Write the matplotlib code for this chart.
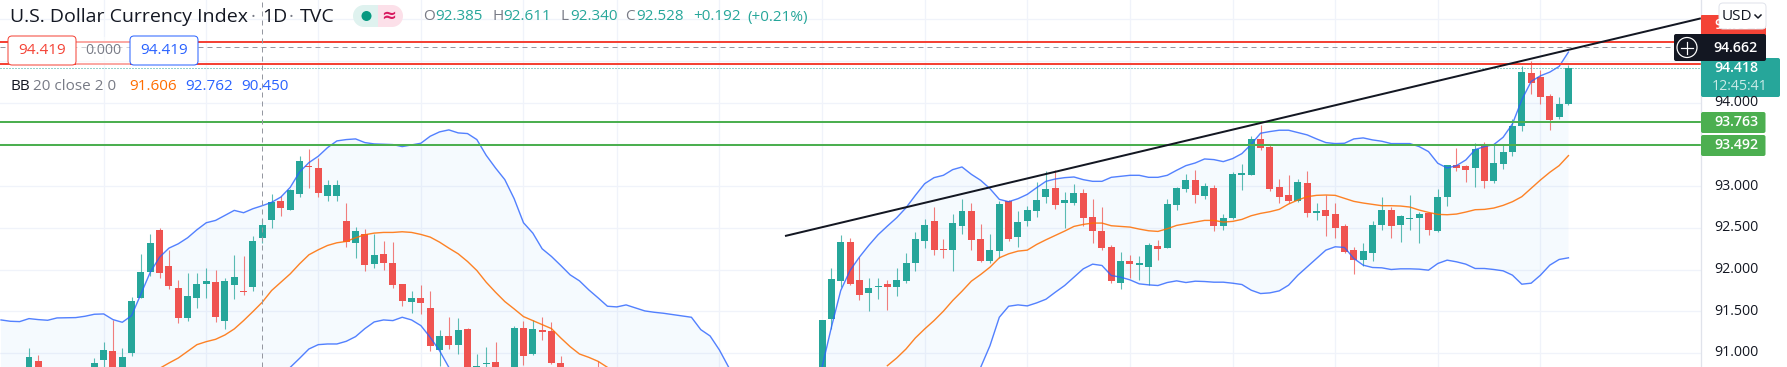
import numpy as np
import matplotlib
matplotlib.use('Agg')
import matplotlib.pyplot as plt
from matplotlib.patches import FancyBboxPatch, Rectangle, Circle

plt.rcParams['font.family'] = ['Open Sans', 'DejaVu Sans']

# candles that reach into the visible window (values below the window are estimates)
bar_n = np.r_[0, 1, 7:51, 52:58, 61, 85:166]
opens = [90.60, 90.908,
    90.60, 90.92, 91.028, 90.60, 91.004, 91.656, 91.976, 92.468, 92.044, 91.78, 91.416, 91.656, 91.824, 91.856, 91.388, 91.82, 91.748, 91.796, 92.376, 92.588,
    92.816, 92.708, 92.90, 93.24, 93.212, 92.876, 92.876, 92.576, 92.312, 92.42, 92.06, 92.18, 92.072, 91.832, 91.616, 91.664, 91.544, 91.04, 91.208, 91.10, 91.292, 90.60,
    90.868, 90.896,
    90.60, 91.304, 90.992, 91.28, 91.268, 90.884,
    90.75,
    90.60, 91.412, 91.868, 92.324, 91.88, 91.724, 91.796, 91.832, 91.796, 91.868, 92.072, 92.336, 92.576, 92.24, 92.228, 92.516, 92.696, 92.36, 92.096, 92.216, 92.816,
    92.384, 92.576, 92.696, 92.864, 92.972, 92.792, 92.792, 92.912, 92.624, 92.456, 92.264, 91.844, 92.096, 92.048, 92.024, 92.276, 92.252, 92.768, 92.96, 93.068, 92.876,
    92.972, 92.516, 92.612, 93.132, 93.132, 93.564, 93.468, 92.988, 92.892, 92.82, 93.036, 92.676, 92.712, 92.664, 92.52, 92.232, 92.112, 92.196, 92.532, 92.712, 92.532,
    92.604, 92.616, 92.676, 92.46, 92.868, 93.252, 93.24, 93.216, 93.48, 93.06, 93.264, 93.408, 93.72, 94.356, 94.308, 94.08, 93.828, 93.984]
highs = [91.06, 90.976,
    90.94, 91.136, 91.396, 91.06, 91.676, 92.188, 92.42, 92.50, 92.236, 91.876, 91.964, 91.964, 92.02, 91.996, 91.90, 92.168, 92.156, 92.396, 92.608, 92.908,
    92.876, 92.96, 93.356, 93.44, 93.332, 93.068, 93.068, 92.792, 92.504, 92.48, 92.42, 92.336, 92.324, 91.832, 91.748, 91.82, 91.748, 91.276, 91.436, 91.424, 91.304, 90.992,
    91.076, 91.136,
    91.328, 91.388, 91.40, 91.436, 91.376, 90.968,
    90.90,
    91.40, 92.012, 92.408, 92.372, 92.144, 91.904, 91.904, 91.88, 92.012, 92.192, 92.444, 92.60, 92.744, 92.36, 92.66, 92.84, 92.792, 92.54, 92.42, 92.816, 92.828,
    92.696, 92.756, 93.044, 93.176, 93.188, 92.924, 93.02, 92.96, 92.84, 92.744, 92.288, 92.204, 92.168, 92.156, 92.312, 92.348, 92.84, 92.984, 93.14, 93.188, 93.032,
    93.008, 92.66, 93.164, 93.26, 93.60, 93.732, 93.492, 93.084, 93.132, 93.084, 93.18, 92.796, 92.892, 92.796, 92.544, 92.268, 92.316, 92.58, 92.868, 92.748, 92.652,
    92.892, 92.688, 92.688, 92.964, 93.252, 93.456, 93.252, 93.516, 93.528, 93.49, 93.492, 93.80, 94.44, 94.50, 94.392, 94.104, 94.068, 94.45]
lows = [90.50, 90.60,
    90.50, 90.70, 90.50, 90.50, 90.968, 91.656, 91.928, 91.896, 91.764, 91.356, 91.388, 91.536, 91.66, 91.368, 91.292, 91.648, 91.696, 91.748, 92.316, 92.50,
    92.636, 92.708, 92.868, 92.972, 92.868, 92.82, 92.82, 92.268, 92.132, 91.988, 92.012, 92.00, 91.784, 91.568, 91.484, 91.472, 91.028, 90.848, 91.052, 90.992, 90.60, 90.50,
    90.60, 90.50,
    90.50, 90.86, 90.98, 91.16, 90.872, 90.50,
    90.40,
    90.50, 91.292, 91.796, 91.82, 91.64, 91.508, 91.652, 91.52, 91.688, 91.844, 91.988, 92.252, 92.168, 92.132, 91.988, 92.42, 92.228, 92.084, 92.072, 92.132, 92.336,
    92.264, 92.516, 92.624, 92.792, 92.72, 92.492, 92.768, 92.516, 92.312, 92.228, 91.844, 91.772, 91.904, 91.88, 91.82, 92.108, 92.252, 92.708, 92.924, 92.792, 92.84,
    92.456, 92.468, 92.60, 92.948, 93.132, 93.432, 92.94, 92.80, 92.80, 92.808, 92.628, 92.592, 92.40, 92.376, 92.196, 91.944, 92.04, 92.10, 92.472, 92.376, 92.328,
    92.472, 92.316, 92.412, 92.448, 92.76, 93.18, 93.048, 92.988, 92.976, 93.036, 93.204, 93.36, 93.66, 94.10, 93.984, 93.672, 93.804, 93.972]
closes = [90.956, 90.70,
    90.884, 91.036, 90.60, 90.956, 91.628, 91.976, 92.312, 91.956, 91.808, 91.416, 91.688, 91.828, 91.868, 91.436, 91.868, 91.916, 91.732, 92.336, 92.528, 92.804,
    92.732, 92.948, 93.296, 93.228, 92.912, 93.008, 93.016, 92.328, 92.456, 92.048, 92.168, 92.072, 91.82, 91.628, 91.664, 91.604, 91.08, 91.208, 91.10, 91.28, 90.70, 90.848,
    90.884, 90.60,
    91.304, 90.968, 91.292, 91.256, 90.884, 90.60,
    90.50,
    91.40, 91.892, 92.324, 91.832, 91.70, 91.784, 91.808, 91.796, 91.88, 92.072, 92.36, 92.528, 92.228, 92.228, 92.552, 92.696, 92.348, 92.096, 92.228, 92.78, 92.36,
    92.564, 92.708, 92.828, 92.96, 92.768, 92.828, 92.912, 92.612, 92.456, 92.252, 91.868, 92.096, 92.06, 92.072, 92.288, 92.24, 92.78, 92.972, 93.068, 92.888, 92.996,
    92.516, 92.612, 93.14, 93.152, 93.564, 93.456, 92.964, 92.868, 92.82, 93.048, 92.676, 92.70, 92.64, 92.496, 92.208, 92.112, 92.22, 92.532, 92.712, 92.52, 92.64,
    92.616, 92.664, 92.472, 92.868, 93.252, 93.216, 93.192, 93.444, 93.06, 93.276, 93.408, 93.72, 94.368, 94.236, 94.068, 93.792, 93.984, 94.416]

# Bollinger bands, one value per bar
upper_a_start = -3
upper_a = [91.396, 91.38, 91.376, 91.412, 91.40, 91.392, 91.42, 91.422, 91.424, 91.44, 91.464, 91.468, 91.40, 91.368, 91.448, 91.708,
    91.968, 92.148, 92.256, 92.308, 92.38, 92.476, 92.56, 92.588, 92.648, 92.708, 92.68, 92.728, 92.764, 92.804, 92.868, 92.984, 93.168,
    93.28, 93.356, 93.46, 93.54, 93.556, 93.564, 93.52, 93.504, 93.50, 93.496, 93.472, 93.492, 93.512, 93.596, 93.648, 93.672,
    93.636, 93.628, 93.556, 93.368, 93.216, 93.076, 92.848, 92.56, 92.436, 92.248, 92.156, 92.048, 91.936, 91.864, 91.756, 91.66, 91.56,
    91.552, 91.576, 91.54, 91.504, 91.488, 91.476, 91.46, 91.444, 91.428, 91.28, 91.204, 91.036, 90.828]
upper_b_start = 85
upper_b = [90.83, 91.308, 91.748, 91.988, 92.148, 92.288, 92.416, 92.52, 92.62, 92.74, 92.888, 93.028, 93.10, 93.128, 93.196, 93.228,
    93.14, 93.068, 92.968, 92.84, 92.812, 92.848, 92.90, 92.98, 93.056, 93.084, 93.10, 93.108, 93.076, 93.056, 93.056, 93.104, 93.116,
    93.128, 93.128, 93.104, 93.104, 93.128, 93.188, 93.244, 93.276, 93.324, 93.316, 93.292, 93.328, 93.388, 93.50, 93.632, 93.652, 93.668,
    93.668, 93.64, 93.612, 93.564, 93.52, 93.508, 93.512, 93.564, 93.576, 93.552, 93.536, 93.508, 93.508, 93.508, 93.472, 93.412, 93.272,
    93.216, 93.244, 93.312, 93.436, 93.472, 93.496, 93.584, 93.744, 94.032, 94.252, 94.32, 94.364, 94.432, 94.604]
middle_a_start = 14
middle_a = [90.816, 90.88, 90.94, 91.02, 91.10, 91.136, 91.164, 91.216, 91.288, 91.388, 91.496, 91.608, 91.748, 91.848, 91.948, 92.068,
    92.176, 92.236, 92.288, 92.32, 92.336, 92.38, 92.416, 92.436, 92.444, 92.444, 92.452, 92.444, 92.42, 92.388, 92.328, 92.256,
    92.188, 92.096, 91.988, 91.848, 91.728, 91.616, 91.528, 91.436, 91.388, 91.34, 91.292, 91.18, 91.076, 90.988, 90.948, 90.90, 90.828]
middle_b_start = 92
middle_b = [90.848, 90.94, 91.048, 91.18, 91.288, 91.388, 91.50, 91.628, 91.74, 91.86, 91.94, 92.028, 92.14, 92.188, 92.22, 92.232, 92.30,
    92.356, 92.408, 92.46, 92.516, 92.54, 92.556, 92.556, 92.524, 92.516, 92.508, 92.484, 92.464, 92.456, 92.488, 92.528, 92.548, 92.568,
    92.588, 92.588, 92.568, 92.576, 92.60, 92.644, 92.672, 92.692, 92.72, 92.784, 92.832, 92.872, 92.888, 92.892, 92.888, 92.852, 92.816,
    92.796, 92.78, 92.764, 92.764, 92.76, 92.748, 92.712, 92.684, 92.66, 92.656, 92.664, 92.688, 92.716, 92.72, 92.736, 92.768, 92.812,
    92.872, 92.972, 93.072, 93.164, 93.244, 93.364]
lower_a_start = 28
lower_a = [90.828, 90.936, 91.048, 91.10, 91.108, 91.108, 91.14, 91.196, 91.292, 91.372, 91.396, 91.388, 91.428, 91.396, 91.328, 91.188, 91.028, 90.828]
lower_b_start = 102
lower_b = [90.828, 91.088, 91.428, 91.56, 91.576, 91.564, 91.60, 91.644, 91.728, 91.808, 91.908, 92.008, 92.064, 92.048, 91.928, 91.908,
    91.876, 91.828, 91.816, 91.808, 91.844, 91.864, 91.844, 91.86, 91.856, 91.848, 91.848, 91.836, 91.82, 91.752, 91.712, 91.72, 91.744,
    91.812, 91.932, 92.032, 92.132, 92.232, 92.272, 92.264, 92.132, 92.052, 92.024, 92.02, 92.0, 92.008, 92.008, 92.004, 91.992, 92.072,
    92.112, 92.092, 92.064, 92.012, 92.012, 92.0, 91.984, 91.932, 91.824, 91.836, 91.932, 92.052, 92.12, 92.14]

# drawings and price levels
trend_n = [81.03, 179.2]
trend_p = [92.401, 95.008]
red_levels = [94.724, 94.464]
green_levels = [93.763, 93.492]
last_price = 94.418
cross_price = 94.662
cross_n = 25
grid_n = [8, 19, 31, 42, 53, 63, 74, 85, 96, 107, 118, 129, 140, 151, 162]
grid_p = [95.0, 94.5, 94.0, 93.5, 93.0, 92.5, 92.0, 91.5, 91.0]
axis_p = [94.0, 93.0, 92.5, 92.0, 91.5, 91.0]

W, H = 1787, 367
AXIS_X = 1701
X0, BAR_W = 29.0, 9.33
Y94, PX_UNIT = 102.5, 83.5
GREEN, RED = '#26a69a', '#ef5350'
BLUE, ORANGE = '#2962ff', '#ff6d00'
GRID = '#f0f3fa'
INK = '#131722'
GREY = '#787b86'
px = 0.72


def py(p):
    return Y94 + (94.0 - p) * PX_UNIT


def series(start, vals):
    full = np.arange(-3, 166)
    out = np.full(full.shape, np.nan)
    out[start + 3:start + 3 + len(vals)] = vals
    return out


def main():
    fig = plt.figure(figsize=(W / 100, H / 100), dpi=100, facecolor='white')
    ax = fig.add_axes([0, 0, AXIS_X / W, 1])
    ax.set_xlim((0 - X0) / BAR_W, (AXIS_X - X0) / BAR_W)
    ax.set_ylim(94 - (H - Y94) / PX_UNIT, 94 + Y94 / PX_UNIT)
    ax.axis('off')
    bottom = ax.get_ylim()[0]

    for n in grid_n:
        ax.axvline(n, color=GRID, lw=1.3 * px, zorder=1)
    for p in grid_p:
        ax.axhline(p, color=GRID, lw=1.3 * px, zorder=1)

    full = np.arange(-3, 166)
    upper = np.where(np.isnan(series(upper_a_start, upper_a)), series(upper_b_start, upper_b), series(upper_a_start, upper_a))
    middle = np.where(np.isnan(series(middle_a_start, middle_a)), series(middle_b_start, middle_b), series(middle_a_start, middle_a))
    lower = np.where(np.isnan(series(lower_a_start, lower_a)), series(lower_b_start, lower_b), series(lower_a_start, lower_a))
    ax.fill_between(full, upper, np.where(np.isnan(lower), bottom - 1, lower), where=~np.isnan(upper),
                    color='#2196f3', alpha=0.045, lw=0, zorder=2)

    o, h, l, c = map(np.array, (opens, highs, lows, closes))
    cols = np.where(c >= o, GREEN, RED)
    ax.vlines(bar_n, l, h, colors=cols, lw=1.1 * px, alpha=0.75, zorder=3)
    body_h = np.maximum(np.abs(c - o), 0.012)
    ax.bar(bar_n, body_h, bottom=np.minimum(o, c), width=0.75, color=cols, lw=0, zorder=4)

    ax.plot(full, upper, color=BLUE, lw=1.4 * px, alpha=0.8, zorder=5)
    ax.plot(full, lower, color=BLUE, lw=1.4 * px, alpha=0.8, zorder=5)
    ax.plot(full, middle, color=ORANGE, lw=1.4 * px, alpha=0.85, zorder=5)

    for p in green_levels:
        ax.axhline(p, color='#4caf50', lw=2 * px, zorder=6)
    for p in red_levels:
        ax.axhline(p, color='#f44336', lw=2 * px, zorder=6)
    ax.axhline(last_price, color=GREEN, lw=1 * px, ls=(0, (1, 2)), zorder=6)
    ax.axhline(cross_price, color='#9598a1', lw=1 * px, ls=(0, (5, 4)), zorder=7)
    ax.axvline(cross_n, color='#9598a1', lw=1 * px, ls=(0, (5, 4)), zorder=7)
    ax.plot(trend_n, trend_p, color=INK, lw=2 * px, zorder=8, solid_capstyle='butt')

    # overlay in pixel units for the labels around the chart
    ui = fig.add_axes([0, 0, 1, 1])
    ui.set_xlim(0, W)
    ui.set_ylim(H, 0)
    ui.axis('off')
    ui.patch.set_alpha(0)
    ui.axvline(AXIS_X, color='#e0e3eb', lw=1.3 * px, zorder=1)

    def box(x0, y0, x1, y1, fc, ec='none', r=2.0, lw=1.0, zorder=3):
        ui.add_patch(FancyBboxPatch((x0 + r, y0 + r), x1 - x0 - 2 * r, y1 - y0 - 2 * r,
                                    boxstyle='round,pad=%f,rounding_size=%f' % (r, r), fc=fc, ec=ec,
                                    lw=lw * px, zorder=zorder, mutation_aspect=1))

    txt = dict(va='center', fontsize=11, zorder=6)
    scale_txt = dict(va='center', fontsize=10.2, zorder=6)
    # title row
    ui.text(10, 17, 'U.S. Dollar Currency Index', ha='left', va='center', fontsize=14, color=INK, zorder=6)
    ui.text(253, 17, '·', ha='center', va='center', fontsize=13, color=GREY, zorder=6)
    ui.text(262, 17, '1D', ha='left', va='center', fontsize=14, color=INK, zorder=6)
    ui.text(291, 17, '·', ha='center', va='center', fontsize=13, color=GREY, zorder=6)
    ui.text(300, 17, 'TVC', ha='left', va='center', fontsize=14, color=INK, zorder=6)

    ui.add_patch(Rectangle((364, 5), 14, 22, fc='#dff2ef', ec='none', zorder=3))
    ui.add_patch(Circle((364, 16), 11, fc='#dff2ef', ec='none', zorder=3))
    ui.add_patch(Rectangle((378, 5), 14, 22, fc='#fce0e9', ec='none', zorder=3))
    ui.add_patch(Circle((392, 16), 11, fc='#fce0e9', ec='none', zorder=3))
    ui.add_patch(Circle((366.5, 16), 5, fc='#089981', ec='none', zorder=4))
    ui.text(389, 16, '≈', ha='center', va='center', fontsize=13, fontweight='bold', color='#d81b60', family='DejaVu Sans', zorder=6)

    ohlc = [(423, 'O', GREY), (435, '92.385', GREEN), (492, 'H', GREY), (503, '92.611', GREEN), (560, 'L', GREY), (570, '92.340', GREEN),
            (625, 'C', GREY), (636, '92.528', GREEN), (693, '+0.192', GREEN), (747, '(+0.21%)', GREEN)]
    for x, s, col in ohlc:
        ui.text(x, 17, s, ha='left', color=col, **txt)

    # long/short tool labels on the left
    ui.add_patch(Rectangle((76, 37), 54, 28, fc='white', alpha=0.55, ec='none', zorder=2))
    box(8, 36, 76, 65, 'white', ec='#f44336', r=4)
    box(130, 36, 198, 65, 'white', ec=BLUE, r=4)
    ui.text(42, 51, '94.419', ha='center', color='#f44336', **txt)
    ui.text(103, 51, '0.000', ha='center', color=GREY, **scale_txt)
    ui.text(164, 51, '94.419', ha='center', color=BLUE, **txt)

    # indicator legend
    ui.text(10, 86, 'BB', ha='left', color=INK, **txt)
    ui.text(33, 86, '20 close 2 0', ha='left', color=GREY, **txt)
    ui.text(129, 86, '91.606', ha='left', color=ORANGE, **txt)
    ui.text(185, 86, '92.762', ha='left', color=BLUE, **txt)
    ui.text(241, 86, '90.450', ha='left', color=BLUE, **txt)

    # price scale
    for p in axis_p:
        ui.text(1736, py(p), '%.3f' % p, ha='center', color=INK, **scale_txt)
    box(1701, 112, 1765.5, 133, '#4caf50', r=2)
    box(1701, 135, 1765.5, 156, '#4caf50', r=2)
    for p in green_levels:
        ui.text(1736, py(p), '%.3f' % p, ha='center', color='white', fontweight='semibold', **scale_txt)

    box(1701, 15, 1766, 36, '#f44336', r=1)
    ui.text(1736, 25, '94.934', ha='center', color='white', fontweight='semibold', **scale_txt)
    box(1719, 3, 1766, 29, 'white', ec='#e0e3eb', r=4, zorder=5)
    ui.text(1737, 16, 'USD', ha='center', color=INK, va='center', fontsize=11, zorder=6)
    ui.plot([1755, 1758, 1761], [15, 18, 15], color=INK, lw=1.5 * px, zorder=6)

    box(1701, 58, 1780, 97, GREEN, r=2, zorder=3)
    ui.text(1736, 68.5, '%.3f' % last_price, ha='center', color='white', fontweight='semibold', **scale_txt)
    ui.text(1740, 87, '12:45:41', ha='center', color='#c9ebe7', **scale_txt)

    box(1674, 34, 1766, 61, INK, r=2, zorder=4)
    ui.add_patch(Circle((1687, 47.5), 10, fc='none', ec='white', lw=1.2 * px, zorder=6))
    ui.plot([1681, 1693], [47.5, 47.5], color='white', lw=1.2 * px, zorder=6)
    ui.plot([1687, 1687], [41.5, 53.5], color='white', lw=1.2 * px, zorder=6)
    ui.text(1736, 47.5, '%.3f' % cross_price, ha='center', color='white', fontweight='semibold', **scale_txt)

    fig.savefig('out.png', dpi=100, facecolor='white')
    return


if __name__ == '__main__':
    main()
